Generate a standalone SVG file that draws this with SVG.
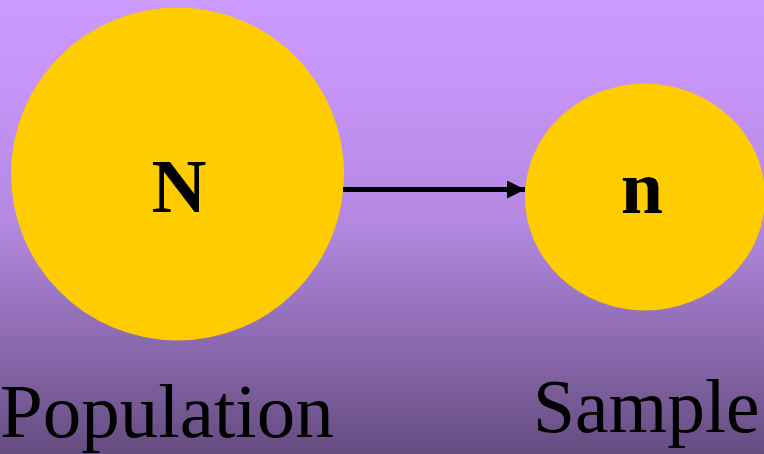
<svg xmlns="http://www.w3.org/2000/svg" width="764" height="454" viewBox="0 0 764 454">
<style>
.node{fill:#FFCC00}
.lbl{font-family:"Liberation Serif","Times New Roman",serif;font-weight:bold;font-size:76px;fill:#000;text-anchor:middle}
.cap{font-family:"Liberation Serif","Times New Roman",serif;fill:#000}
.conn{stroke:#000;stroke-width:5;fill:none}
</style>
<defs>
<linearGradient id="bg" x1="0" y1="0" x2="0" y2="1">
<stop offset="0" stop-color="#CC99FF"/>
<stop offset="0.18" stop-color="#C794F8"/>
<stop offset="0.5" stop-color="#B388E0"/>
<stop offset="1" stop-color="#654C80"/>
</linearGradient>
<marker id="arr" markerWidth="18" markerHeight="18" refX="18" refY="9" orient="auto" markerUnits="userSpaceOnUse">
<path d="M0,0 L18,9 L0,18 Z" fill="#000"/>
</marker>
</defs>
<rect x="0" y="0" width="764" height="454" fill="url(#bg)"/>
<g id="population">
<ellipse class="node" cx="177.5" cy="174" rx="166.5" ry="166.5"/>
<text class="lbl" x="179" y="212">N</text>
<text class="cap" x="0" y="437" font-size="77">Population</text>
</g>
<g id="sample">
<ellipse class="node" cx="645" cy="197" rx="120" ry="113.5"/>
<text class="lbl" x="642" y="213">n</text>
<text class="cap" x="533" y="432" font-size="75.5">Sample</text>
</g>
<g id="connectors">
<line class="conn" x1="343" y1="189.5" x2="525" y2="189.5" marker-end="url(#arr)"/>
</g>
</svg>
